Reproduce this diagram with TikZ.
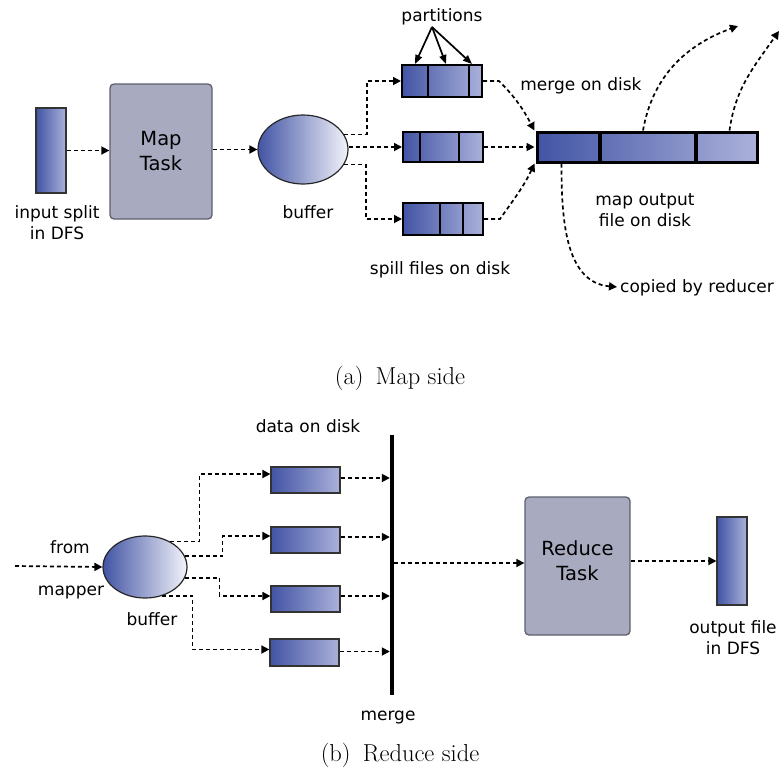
\documentclass[tikz,border=0pt]{standalone}
\usepackage{fontspec}
\setmainfont{Latin Modern Roman}
\newfontfamily\dvs{DejaVu Sans}
\usetikzlibrary{arrows.meta,shapes.geometric}
\definecolor{bdark}{HTML}{4254A4}
\definecolor{blight}{HTML}{AAB1DA}
\definecolor{bwhite}{HTML}{F2F3FA}
\definecolor{taskfill}{HTML}{A8AAC0}
\definecolor{taskdraw}{HTML}{5E5F6E}
\tikzset{
  lbl/.style={font=\dvs\fontsize{17}{21}\selectfont, inner sep=0pt, align=center},
  tasklbl/.style={font=\dvs\fontsize{19.5}{25}\selectfont, align=center},
  captext/.style={font=\fontsize{24.5}{29}\selectfont, inner sep=0pt},
  filebox/.style={draw=black!80, line width=1.2pt, left color=bdark, right color=blight, minimum width=#1, inner sep=0pt},
  spill/.style={draw=black, line width=2pt, left color=bdark, right color=blight, minimum width=80pt, inner sep=0pt},
  taskbox/.style={draw=taskdraw, line width=1.3pt, fill=taskfill, rounded corners=4pt, inner sep=0pt},
  bufshape/.style={ellipse, draw=black!85, line width=1.2pt, left color=bdark, right color=bwhite, inner sep=0pt},
  arr/.style={line width=1.7pt, dash pattern=on 4pt off 3pt, -{Triangle[length=8pt,width=8pt]}},
  parr/.style={line width=1.7pt, -{Triangle[length=9pt,width=7pt]}},
  divider/.style={line width=2.8pt}
}
\begin{document}
\begin{tikzpicture}[x=1pt,y=-1pt]
\useasboundingbox (0,0) rectangle (780,769);
% ================= Map side =================
\node[filebox=30pt, minimum height=85pt] (in) at (51,150.5) {};
\node[taskbox, minimum width=102pt, minimum height=135pt] (map) at (161,151.5) {};
\node[tasklbl] (maplbl) at (161,151) {Map\\Task};
\node[bufshape, minimum width=90pt, minimum height=69pt] (buf) at (303,149.5) {};
\node[lbl] (inlbl) at (57,222.5) {input split\\in DFS};
\node[lbl] (buflbl) at (308,212) {buffer};

\node[spill, minimum height=32pt] (s1) at (442,81) {};
\node[spill, minimum height=30pt] (s2) at (443,147) {};
\node[spill, minimum height=32pt] (s3) at (443,219) {};
\draw[divider] (428,65) -- (428,97);
\draw[divider] (469,65) -- (469,97);
\draw[divider] (420,132) -- (420,162);
\draw[divider] (459,132) -- (459,162);
\draw[divider] (440,203) -- (440,235);
\draw[divider] (463,203) -- (463,235);

\node[draw=black, line width=3pt, left color=bdark, right color=blight, minimum width=220pt, minimum height=30pt, inner sep=0pt] (mo) at (647,147) {};
\draw[line width=3.2pt] (600,132) -- (600,162);
\draw[line width=3.2pt] (696,132) -- (696,162);

\node[lbl] (part) at (442,17) {partitions};
\node[lbl] (spilllbl) at (440,270) {spill files on disk};
\node[lbl] (mergelbl) at (581,86) {merge on disk};
\node[lbl] (molbl) at (645,210.5) {map output\\file on disk};
\node[lbl, anchor=west] (cplbl) at (620,288) {copied by reducer};

\coordinate (pc) at (432,27);
\draw[parr] (pc) -- ([xshift=-27pt]s1.north);
\draw[parr] (pc) -- ([xshift=4pt]s1.north);
\draw[parr] (pc) -- ([xshift=30pt]s1.north);

\draw[arr] (in.east) -- (in.east -| map.west);
\draw[arr] (map.east |- buf.west) -- (buf.west);
\draw[arr] (buf.20) -| ([xshift=-34pt]s1.west) -- (s1.west);
\draw[arr] (buf.east |- s2.west) -- (s2.west);
\draw[arr] (buf.-20) -| ([xshift=-36pt]s3.west) -- (s3.west);

\draw[arr] (s1.east) -- ++(16,0) to[out=-45,in=118] ([xshift=-1pt]mo.north west);
\draw[arr] (s2.east) -- ([xshift=-1pt]mo.west);
\draw[arr] (s3.east) -- ++(16,0) to[out=55,in=-115] ([xshift=-1pt]mo.south west);

\coordinate (r1) at (738,26);
\coordinate (r2) at (779,31);
\coordinate (cp) at (617,287);
\draw[arr] ([xshift=-4pt]mo.north) to[out=80,in=200] (r1);
\draw[arr] ([xshift=-29pt]mo.north east) to[out=82,in=235] (r2);
\draw[arr] ([xshift=26pt]mo.south west) to[out=-90,in=175] (cp);

\node[captext] (capa) at (400,378) {(a)\enspace Map side};

% ================= Reduce side =================
\node[bufshape, minimum width=84pt, minimum height=62pt] (buf2) at (145,567) {};
\node[filebox=69pt, minimum height=26pt] (d1) at (305.5,480) {};
\node[filebox=69pt, minimum height=26pt] (d2) at (305.5,540) {};
\node[filebox=69pt, minimum height=26pt] (d3) at (305.5,599) {};
\node[filebox=69pt, minimum height=27pt] (d4) at (304.5,652.5) {};
\node[fill=black, minimum width=4pt, minimum height=260pt, inner sep=0pt] (bar) at (392,565) {};
\node[taskbox, minimum width=105pt, minimum height=138pt] (red) at (577.5,566) {};
\node[tasklbl] (redlbl) at (577.5,561) {Reduce\\Task};
\node[filebox=30pt, minimum height=88pt] (out) at (732,561) {};

\node[lbl] (datalbl) at (308,426) {data on disk};
\node[lbl] (mergelbl2) at (388,717) {merge};
\node[lbl] (fromlbl) at (70,547) {from};
\node[lbl] (mapperlbl) at (71,593) {mapper};
\node[lbl] (buf2lbl) at (152,619) {buffer};
\node[lbl] (outlbl) at (733,638) {output file\\in DFS};

\coordinate (fm) at (15,566);
\draw[arr] (fm) -- (buf2.west);
\draw[arr] (buf2.45) -| ([xshift=-71pt,yshift=6pt]d1.west) -- ([yshift=6pt]d1.west);
\draw[arr] (buf2.15) -| ([xshift=-48pt,yshift=4pt]d2.west) -- ([yshift=4pt]d2.west);
\draw[arr] (buf2.-15) -| ([xshift=-51pt,yshift=3pt]d3.west) -- ([yshift=3pt]d3.west);
\draw[arr] (buf2.-60) -| ([xshift=-77pt,yshift=3pt]d4.west) -- ([yshift=3pt]d4.west);

\draw[arr] ([yshift=2pt]d1.east) -- ([yshift=2pt]d1.east -| bar.west);
\draw[arr] ([yshift=3pt]d2.east) -- ([yshift=3pt]d2.east -| bar.west);
\draw[arr] ([yshift=3pt]d3.east) -- ([yshift=3pt]d3.east -| bar.west);
\draw[arr] ([yshift=1pt]d4.east) -- ([yshift=1pt]d4.east -| bar.west);

\draw[arr] ([yshift=2pt]bar.east) -- ([yshift=2pt]bar.east -| red.west);
\draw[arr] (red.east |- out.west) -- (out.west);

\node[captext] (capb) at (400,755) {(b)\enspace Reduce side};
\end{tikzpicture}
\end{document}
